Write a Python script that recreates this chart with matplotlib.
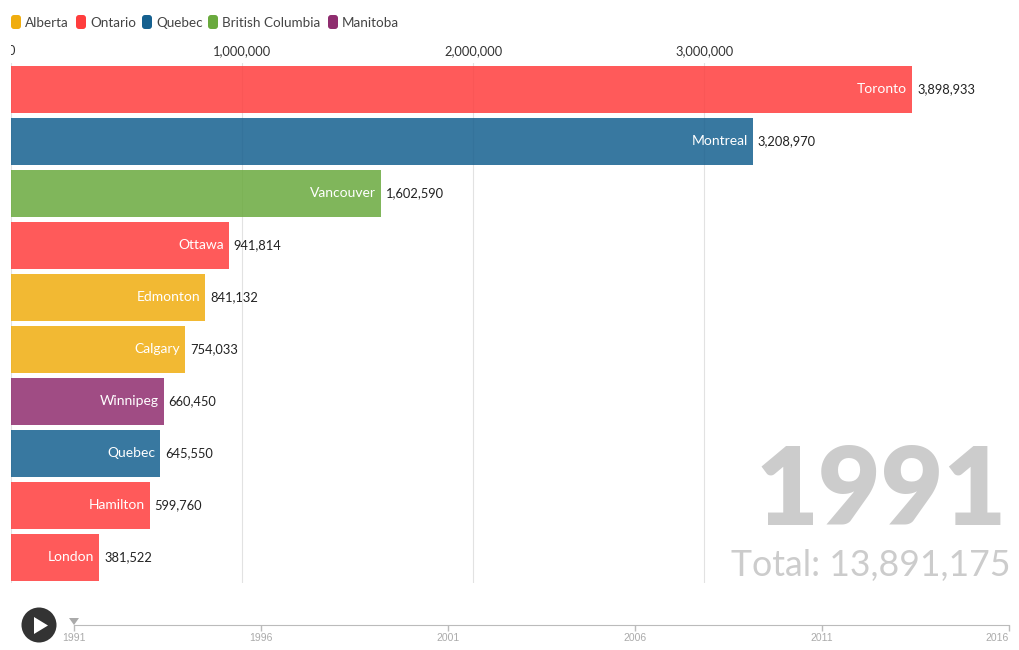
import matplotlib
matplotlib.use('agg')
import matplotlib.pyplot as plt
from matplotlib.patches import FancyBboxPatch, Circle, Polygon
from matplotlib.transforms import Bbox

cities = ["Toronto", "Montreal", "Vancouver", "Ottawa", "Edmonton", "Calgary", "Winnipeg", "Quebec", "Hamilton", "London"]
provinces = ["Ontario", "Quebec", "British Columbia", "Ontario", "Alberta", "Alberta", "Manitoba", "Quebec", "Ontario", "Ontario"]
population = [3898933, 3208970, 1602590, 941814, 841132, 754033, 660450, 645550, 599760, 381522]

legend_names = ["Alberta", "Ontario", "Quebec", "British Columbia", "Manitoba"]
legend_colors = ["#f0ad0f", "#ff3d3d", "#15608f", "#6aaa3e", "#8f2d6f"]
xticks = [0, 1000000, 2000000, 3000000]
years = [1991, 1996, 2001, 2006, 2011, 2016]
total = 13891175

plt.rcParams['font.family'] = ['Lato', 'DejaVu Sans']
W, H = 1020, 650
fig = plt.figure(figsize=(W/100, H/100), dpi=100)

#repere en pixels pour ce qui n'est pas le graphique
over = fig.add_axes([0, 0, 1, 1])
over.set_xlim(0, W)
over.set_ylim(H, 0)
over.axis('off')

#barres
ax = fig.add_axes([11/W, (H-583)/H, 998/W, 520/H])
ax.set_xlim(0, 998/231.1e-6)
ax.set_ylim(9.49, -0.51)
for s in ax.spines.values():
    s.set_visible(False)
ax.set_yticks([])
ax.set_xticks(xticks)
ax.set_xticklabels([])
ax.tick_params(length=0)
ax.xaxis.grid(True, color="#e2e2e2", lw=0.8)
ax.set_axisbelow(True)
ax.patch.set_alpha(0)

colors = dict(zip(legend_names, legend_colors))
for i, (c, p, v) in enumerate(zip(cities, provinces, population)):
    ax.barh(i, v, height=0.89, color=colors[p], alpha=0.85, lw=0)
    ax.annotate(c, (v, i), xytext=(-3.6, 1), textcoords='offset points', ha='right', va='center_baseline', color='white', fontsize=10)
    ax.annotate(format(v, ','), (v, i), xytext=(3.6, 1), textcoords='offset points', ha='left', va='center_baseline', color='#222222', fontsize=9.3)

#le 0 est coupe au bord
for t in xticks:
    lab = ax.annotate(format(t, ','), (t, 1), xycoords=('data', 'axes fraction'), xytext=(0, 4), textcoords='offset points', ha='center', va='bottom', color='#333333', fontsize=9.3, annotation_clip=False)
    lab.set_clip_box(Bbox([[11, 0], [W, H]]))
    lab.set_clip_on(True)

#legende
swatch_x = [11, 76, 142, 208, 328]
for x, name, col in zip(swatch_x, legend_names, legend_colors):
    over.add_patch(FancyBboxPatch((x+2, 17), 6, 10, boxstyle="round,pad=2,rounding_size=3", fc=col, ec='none'))
    over.text(x+14, 22, name, va='center_baseline', ha='left', color='#444444', fontsize=9.7)

#annee et total
over.text(1007, 525, "1991", ha='right', va='baseline', color='#cccccc', fontsize=78, fontweight='heavy')
over.text(1011, 576, "Total: " + format(total, ','), ha='right', va='baseline', color='#cccccc', fontsize=25.7)

#barre de temps
tl = fig.add_axes([74/W, (H-625)/H, 935/W, 1/H])
tl.set_xlim(years[0], years[-1])
tl.set_ylim(0, 1)
tl.patch.set_alpha(0)
for s in ['left', 'right', 'top']:
    tl.spines[s].set_visible(False)
tl.spines['bottom'].set_color('#bbbbbb')
tl.set_yticks([])
tl.set_xticks(years)
tl.set_xticklabels([str(y) for y in years], fontsize=7.5, color='#aaaaaa', family=['Liberation Sans'])
tl.tick_params(axis='x', length=4, width=1, color='#bbbbbb', pad=2)
tl.get_xticklabels()[-1].set_ha('right')

#bouton play et curseur
over.add_patch(Circle((39, 625), 17.5, fc='#333333', ec='none'))
over.add_patch(Polygon([(34, 617), (34, 634), (48, 625.5)], closed=True, fc='white', ec='none'))
over.add_patch(Polygon([(69, 618), (79, 618), (74, 625)], closed=True, fc='#aaaaaa', ec='none'))

fig.savefig('out.png', dpi=100)
